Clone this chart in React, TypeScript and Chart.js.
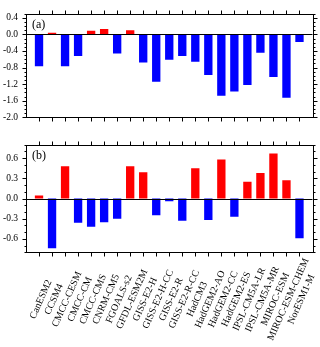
import React, { useEffect, useRef } from 'react';
import { Chart, registerables } from 'chart.js';
Chart.register(...registerables);

const models = [
  'CanESM2', 'CCSM4', 'CMCC-CESM', 'CMCC-CM', 'CMCC-CMS', 'CNRM-CM5', 'FGOALS-s2',
  'GFDL-ESM2M', 'GISS-E2-H', 'GISS-E2-H-CC', 'GISS-E2-R', 'GISS-E2-R-CC', 'HadCM3',
  'HadGEM2-AO', 'HadGEM2-CC', 'HadGEM2-ES', 'IPSL-CM5A-LR', 'IPSL-CM5A-MR',
  'MIROC-ESM', 'MIROC-ESM-CHEM', 'NorESM1-M',
];
const valuesA = [
  -0.77, 0.04, -0.77, -0.52, 0.09, 0.13, -0.46, 0.10, -0.68, -1.14, -0.61,
  -0.52, -0.66, -0.98, -1.48, -1.38, -1.22, -0.44, -1.03, -1.53, -0.18,
];
const valuesB = [
  0.045, -0.74, 0.48, -0.36, -0.42, -0.355, -0.30, 0.48, 0.39, -0.25, -0.04,
  -0.33, 0.45, -0.32, 0.58, -0.27, 0.25, 0.38, 0.67, 0.27, -0.59,
];
const yTicksA = [-2.0, -1.6, -1.2, -0.8, -0.4, 0.0, 0.4];
const yTicksB = [-0.6, -0.3, 0.0, 0.3, 0.6];
const rangeA = { min: -2.0, max: 0.5, minorStep: 0.1 };
const rangeB = { min: -0.8, max: 0.8, minorStep: 0.1 };

const SERIF = "'Liberation Serif', 'Times New Roman', serif";
const RED = '#ff0000';
const BLUE = '#0000ff';

const paddedLabels = ['', ...models, ''];

function framePlugin(panelLabel: string, majors: number[], range: { min: number; max: number; minorStep: number }, drawXLabels: boolean) {
  return {
    id: 'frame' + panelLabel,
    afterDatasetsDraw(chart: any) {
      const { ctx, chartArea } = chart;
      const { left, right, top, bottom } = chartArea;
      const x = chart.scales.x;
      const y = chart.scales.y;
      ctx.save();
      ctx.strokeStyle = '#000';
      ctx.lineWidth = 1;
      const line = (x1: number, y1: number, x2: number, y2: number) => {
        ctx.beginPath();
        ctx.moveTo(x1, y1);
        ctx.lineTo(x2, y2);
        ctx.stroke();
      };
      const y0 = Math.round(y.getPixelForValue(0)) + 0.5;
      line(left, y0, right, y0);
      const L = Math.round(left) + 0.5;
      const R = Math.round(right) + 0.5;
      const T = Math.round(top) + 0.5;
      const B = Math.round(bottom) + 0.5;
      ctx.strokeRect(L, T, R - L, B - T);
      for (let i = 1; i <= models.length; i++) {
        const px = Math.round(x.getPixelForValue(i)) + 0.5;
        line(px, B, px, B + 4);
        line(px, T, px, T - 4);
      }
      const nMinor = Math.round((range.max - range.min) / range.minorStep);
      for (let k = 0; k <= nMinor; k++) {
        const v = range.min + k * range.minorStep;
        const py = Math.round(y.getPixelForValue(v)) + 0.5;
        line(L - 2, py, L, py);
        line(R, py, R + 2, py);
      }
      for (const v of majors) {
        const py = Math.round(y.getPixelForValue(v)) + 0.5;
        line(L - 4, py, L, py);
        line(R, py, R + 4, py);
      }
      ctx.fillStyle = '#000';
      ctx.font = `12px ${SERIF}`;
      ctx.textAlign = 'left';
      ctx.textBaseline = 'middle';
      ctx.fillText(panelLabel, left + 6, top + 11);
      ctx.restore();
    },
    afterDraw(chart: any) {
      if (!drawXLabels) return;
      const { ctx } = chart;
      const x = chart.scales.x;
      ctx.save();
      ctx.fillStyle = '#000';
      ctx.font = `10px ${SERIF}`;
      ctx.textAlign = 'center';
      ctx.textBaseline = 'middle';
      const cy = chart.chartArea.bottom + 47;
      models.forEach((m, i) => {
        const px = x.getPixelForValue(i + 1);
        ctx.save();
        ctx.translate(px + 2, cy);
        ctx.rotate((-66 * Math.PI) / 180);
        ctx.fillText(m, 0, 0);
        ctx.restore();
      });
      ctx.restore();
    },
  };
}

function makeConfig(values: number[], ticks: number[], range: { min: number; max: number; minorStep: number }, padding: any, label: string, xLabels: boolean) {
  const data = [null, ...values, null];
  return {
    type: 'bar' as const,
    data: {
      labels: paddedLabels,
      datasets: [
        {
          data,
          backgroundColor: data.map((v) => (v !== null && v >= 0 ? RED : BLUE)),
          borderWidth: 0,
          barPercentage: 0.64,
          categoryPercentage: 1,
        },
      ],
    },
    options: {
      responsive: false,
      animation: false as const,
      layout: { padding },
      plugins: { legend: { display: false }, tooltip: { enabled: false } },
      scales: {
        x: { type: 'category' as const, offset: false, display: false },
        y: {
          type: 'linear' as const,
          min: range.min,
          max: range.max,
          afterBuildTicks: (s: any) => {
            s.ticks = ticks.map((v) => ({ value: v }));
          },
          afterFit: (s: any) => {
            s.width = 26;
          },
          grid: { display: false, drawTicks: false, tickLength: 0 },
          border: { display: false },
          ticks: {
            padding: 8,
            color: '#000',
            font: { family: SERIF, size: 9.5 },
            callback: (v: any) => Number(v).toFixed(1),
          },
        },
      },
    },
    plugins: [framePlugin(label, ticks, range, xLabels)],
  };
}

export default function App() {
  const refA = useRef<HTMLCanvasElement>(null);
  const refB = useRef<HTMLCanvasElement>(null);
  useEffect(() => {
    const a = new Chart(refA.current!, makeConfig(valuesA, yTicksA, rangeA, { top: 7, bottom: 10.3, left: 0, right: 7.5 }, '(a)', false) as any);
    const b = new Chart(refB.current!, makeConfig(valuesB, yTicksB, rangeB, { top: 6.3, bottom: 94.7, left: 0, right: 7.5 }, '(b)', true) as any);
    return () => {
      a.destroy();
      b.destroy();
    };
  }, []);
  return (
    <div style={{ position: 'absolute', left: 0, top: 0, width: 320, height: 347, background: '#fff' }}>
      <canvas ref={refA} width={320} height={131} style={{ position: 'absolute', left: 0, top: 0 }} />
      <canvas ref={refB} width={320} height={216} style={{ position: 'absolute', left: 0, top: 131 }} />
    </div>
  );
}
